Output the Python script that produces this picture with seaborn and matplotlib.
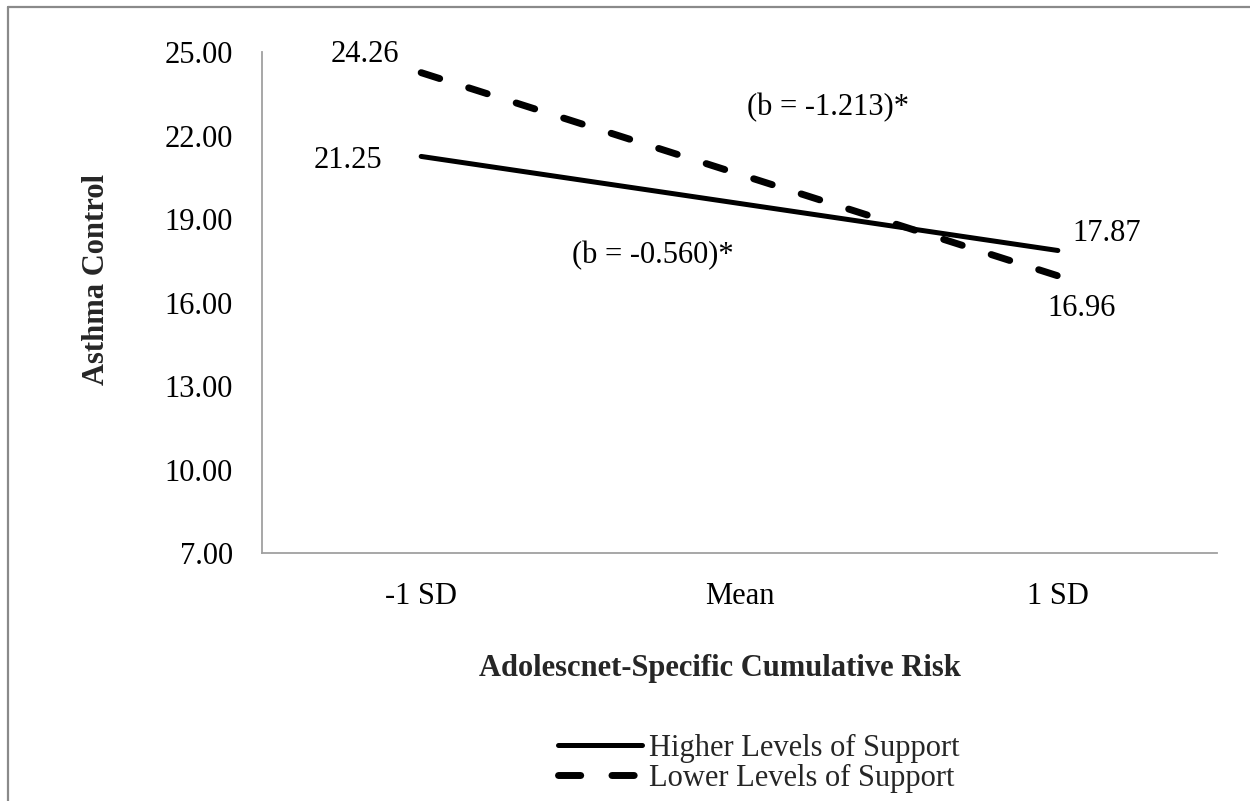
import pandas as pd
import matplotlib.pyplot as plt
import seaborn as sns
from matplotlib.lines import Line2D

# data
risk_levels = ["-1 SD", "Mean", "1 SD"]
higher_support = [21.25, 19.56, 17.87]
lower_support = [24.26, 20.61, 16.96]
group_names = ["Higher Levels of Support", "Lower Levels of Support"]
y_ticks = [7, 10, 13, 16, 19, 22, 25]

df = pd.DataFrame({
    "risk": risk_levels * 2,
    "control": higher_support + lower_support,
    "group": [group_names[0]] * 3 + [group_names[1]] * 3,
})

sns.set_theme(style="white")
plt.rcParams["font.family"] = ["Liberation Serif", "DejaVu Serif"]

fig = plt.figure(figsize=(12.5, 8.01), dpi=100)
ax = fig.add_axes([0.2096, 0.3096, 0.764, 0.6254])

sns.lineplot(data=df, x="risk", y="control", hue="group", style="group",
             palette=["black", "black"], sort=False, legend=False, ax=ax)

dash_pattern = (2.8, 4.38)
ax.lines[0].set_linewidth(3.6)
ax.lines[0].set_linestyle("-")
ax.lines[0].set_solid_capstyle("round")
ax.lines[1].set_linewidth(5.0)
ax.lines[1].set_dashes(dash_pattern)
ax.lines[1].set_dash_capstyle("round")

ax.set_xlim(-0.5, 2.5)
ax.set_ylim(7, 25)
ax.set_yticks(y_ticks)
ax.set_yticklabels([f"{v:.2f}" for v in y_ticks])
ax.tick_params(axis="both", length=0, labelsize=22, colors="black")
ax.tick_params(axis="y", pad=21)
ax.tick_params(axis="x", pad=21)

for side in ["top", "right"]:
    ax.spines[side].set_visible(False)
for side in ["left", "bottom"]:
    ax.spines[side].set_color("#a0a0a0")
    ax.spines[side].set_linewidth(1.3)

ax.set_xlabel("Adolescnet-Specific Cumulative Risk", fontsize=22, fontweight="bold")
ax.set_ylabel("Asthma Control", fontsize=22, fontweight="bold")
ax.xaxis.set_label_coords(0.48, -0.201)
ax.yaxis.set_label_coords(-0.158, 0.545)

# value labels and slopes
txt = dict(fontsize=22, ha="center", va="center", color="black")
ax.text(-0.176, 24.9, "24.26", **txt)
ax.text(-0.23, 21.12, "21.25", **txt)
ax.text(2.155, 18.48, "17.87", **txt)
ax.text(2.076, 15.80, "16.96", **txt)
ax.text(1.278, 23.0, "(b = -1.213)*", **txt)
ax.text(0.728, 17.68, "(b = -0.560)*", **txt)

# legend
handles = [
    Line2D([0], [0], color="black", lw=3.6, solid_capstyle="round"),
    Line2D([0], [0], color="black", lw=5.0, dashes=(3.2, 4.5), dash_capstyle="round"),
]
fig.legend(handles, group_names, loc="center left", bbox_to_anchor=(0.4344, 0.047),
           frameon=False, fontsize=22, handlelength=2.75, handletextpad=0.22,
           labelspacing=0.05, borderpad=0)

# outer frame (only top and left edges show in the reference)
fig.add_artist(Line2D([8 / 1250, 8 / 1250], [0, 1 - 7 / 801], transform=fig.transFigure,
                      color="#8a8a8a", lw=1.6))
fig.add_artist(Line2D([8 / 1250, 1], [1 - 7 / 801, 1 - 7 / 801], transform=fig.transFigure,
                      color="#8a8a8a", lw=1.6))

fig.savefig("out.png", dpi=100, facecolor="white")
